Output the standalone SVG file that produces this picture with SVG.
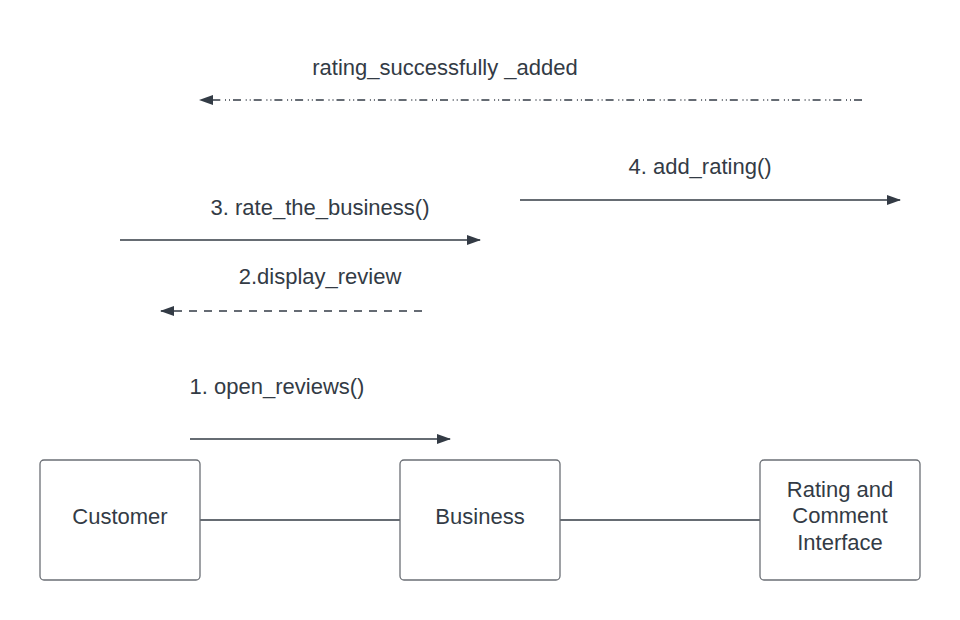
<svg xmlns="http://www.w3.org/2000/svg" width="960" height="620" viewBox="0 0 960 620">
<style>
.node{fill:#fff;stroke:#6b6f75;stroke-width:1.3}
.t{font-family:"Liberation Sans",Arial,sans-serif;fill:#333b45;text-anchor:middle}
.nl{font-size:22px}
.al{font-size:22px}
.c{stroke:#333b45;stroke-width:1.5;fill:none}
</style>
<defs>
<marker id="ah" markerWidth="14" markerHeight="10" refX="13" refY="5" orient="auto" markerUnits="userSpaceOnUse">
<path d="M0,0 L14,5 L0,10 Z" fill="#333b45"/>
</marker>
</defs>
<g id="connectors">
<line class="c" x1="200" y1="520" x2="400" y2="520"/>
<line class="c" x1="560" y1="520" x2="760" y2="520"/>
<line class="c" x1="190" y1="439" x2="450" y2="439" marker-end="url(#ah)"/>
<line class="c" x1="422" y1="311" x2="161" y2="311" stroke-dasharray="8 7" marker-end="url(#ah)"/>
<line class="c" x1="120" y1="240" x2="480" y2="240" marker-end="url(#ah)"/>
<line class="c" x1="520" y1="200" x2="900" y2="200" marker-end="url(#ah)"/>
<line class="c" x1="862" y1="100" x2="200" y2="100" stroke-dasharray="8 3 1 3 1 4.7" marker-end="url(#ah)"/>
<text class="t al" x="277" y="394">1. open_reviews()</text>
<text class="t al" x="320" y="284">2.display_review</text>
<text class="t al" x="320" y="215">3. rate_the_business()</text>
<text class="t al" x="700" y="174">4. add_rating()</text>
<text class="t al" x="445" y="75">rating_successfully _added</text>
</g>
<g id="customer">
<rect class="node" x="40" y="460" width="160" height="120" rx="4"/>
<text class="t nl" x="120" y="524">Customer</text>
</g>
<g id="business">
<rect class="node" x="400" y="460" width="160" height="120" rx="4"/>
<text class="t nl" x="480" y="524">Business</text>
</g>
<g id="rating">
<rect class="node" x="760" y="460" width="160" height="120" rx="4"/>
<text class="t nl" x="840" y="497">Rating and</text>
<text class="t nl" x="840" y="523">Comment</text>
<text class="t nl" x="840" y="550">Interface</text>
</g>
</svg>
